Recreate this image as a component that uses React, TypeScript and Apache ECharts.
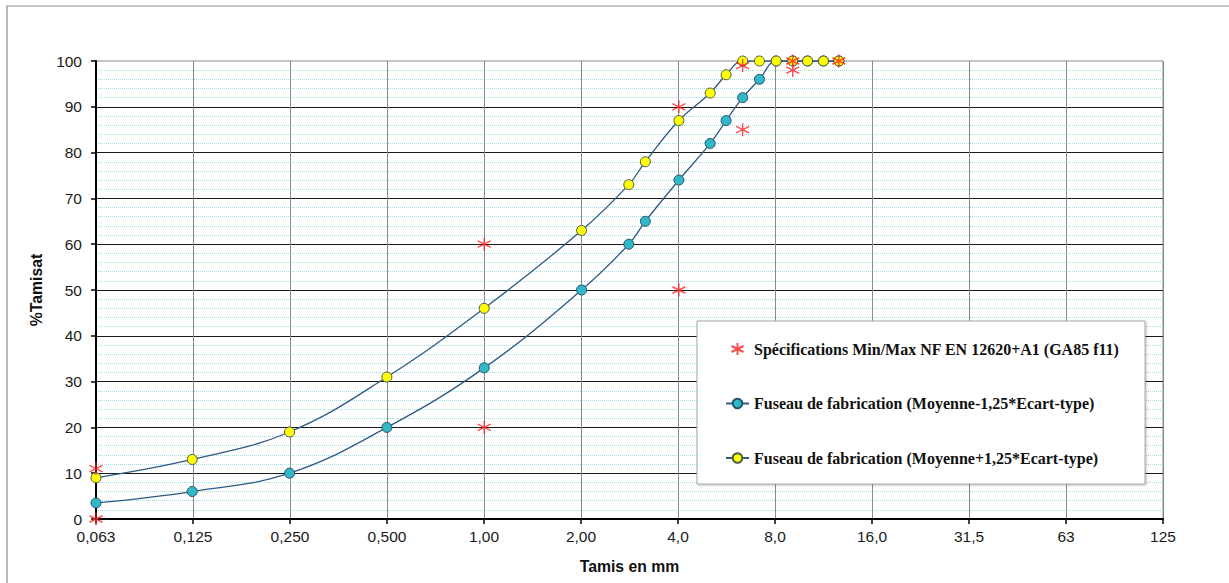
import React, { useEffect, useRef } from "react";
import * as echarts from "echarts";

// Sieve sizes (mm) and passing percentages
const sieves = [0.063, 0.125, 0.25, 0.5, 1, 2, 2.8, 3.15, 4, 5, 5.6, 6.3, 7.1, 8, 9, 10, 11.2, 12.5];
const lowerValues = [3.5, 6, 10, 20, 33, 50, 60, 65, 74, 82, 87, 92, 96, 100, 100, 100, 100, 100];
const upperValues = [9, 13, 19, 31, 46, 63, 73, 78, 87, 93, 97, 100, 100, 100, 100, 100, 100, 100];
const specSieves = [0.063, 0.063, 1, 1, 4, 4, 6.3, 6.3, 9, 9, 12.5];
const specValues = [0, 11, 20, 60, 50, 90, 85, 99, 98, 100, 100];
const xTickLabels = ["0,063", "0,125", "0,250", "0,500", "1,00", "2,00", "4,0", "8,0", "16,0", "31,5", "63", "125"];

const seriesNames = [
  "Spécifications Min/Max NF EN 12620+A1 (GA85 f11)",
  "Fuseau de fabrication (Moyenne-1,25*Ecart-type)",
  "Fuseau de fabrication (Moyenne+1,25*Ecart-type)",
];

// R-series axis: one labelled step = factor 10^0.3 starting at 0.063 mm
const toAxis = (s: number) => Math.log10(s / 0.063) / 0.3;

const STAR = "path://M5,0 L5,10 M0,2.5 L10,7.5 M0,7.5 L10,2.5";

export default function App() {
  const ref = useRef<HTMLDivElement>(null);
  useEffect(() => {
    if (!ref.current) return;
    const chart = echarts.init(ref.current, undefined, { renderer: "svg" });
    const lineColor = "#2e5a84";
    chart.setOption({
      animation: false,
      backgroundColor: "#ffffff",
      textStyle: { fontFamily: "Liberation Sans" },
      grid: {
        left: 96,
        right: 66,
        top: 61,
        bottom: 64,
        show: true,
        borderColor: "#8a8a8a",
        borderWidth: 1,
      },
      graphic: [
        {
          type: "rect",
          shape: { x: 7, y: 6, width: 1400, height: 800 },
          style: { fill: "none", stroke: "#8c8c8c", lineWidth: 1.2 },
          z: 0,
          silent: true,
        },
        {
          type: "rect",
          shape: { x: 697, y: 321, width: 448, height: 163 },
          style: {
            fill: "#ffffff",
            stroke: "#a6a6a6",
            lineWidth: 1,
            shadowBlur: 2,
            shadowOffsetX: 1,
            shadowOffsetY: 1,
            shadowColor: "rgba(0,0,0,0.25)",
          },
          z: 3,
          silent: true,
        },
      ],
      legend: {
        orient: "vertical",
        left: 725,
        top: 341,
        padding: 0,
        itemGap: 38.5,
        itemWidth: 23,
        itemHeight: 12,
        z: 6,
        textStyle: {
          fontFamily: "Liberation Serif",
          fontWeight: "bold",
          fontSize: 16,
          lineHeight: 16,
          color: "#111111",
        },
        data: seriesNames,
      },
      xAxis: {
        type: "value",
        min: 0,
        max: 11,
        interval: 1,
        name: "Tamis en mm",
        nameLocation: "middle",
        nameGap: 39,
        nameTextStyle: { fontFamily: "Liberation Sans", fontWeight: "bold", fontSize: 15.75, color: "#111111" },
        axisLine: { show: true, onZero: false, lineStyle: { color: "#000", width: 2 } },
        axisTick: { show: true, length: 5, lineStyle: { color: "#000", width: 1.5 } },
        axisLabel: {
          margin: 9,
          fontSize: 15.5,
          color: "#1a1a1a",
          fontFamily: "Liberation Sans",
          formatter: (v: number) => xTickLabels[Math.round(v)] ?? "",
        },
        splitLine: { show: true, lineStyle: { color: "#8a8a8a", width: 1 } },
      },
      yAxis: {
        type: "value",
        min: 0,
        max: 100,
        interval: 10,
        name: "%Tamisat",
        nameLocation: "middle",
        nameGap: 52,
        nameTextStyle: { fontFamily: "Liberation Sans", fontWeight: "bold", fontSize: 15.75, color: "#111111" },
        axisLine: { show: true, onZero: false, lineStyle: { color: "#000", width: 2 } },
        axisTick: { show: true, length: 5, lineStyle: { color: "#000", width: 1.5 } },
        axisLabel: { margin: 14, fontSize: 15.5, color: "#1a1a1a", fontFamily: "Liberation Sans" },
        splitLine: { show: true, showMaxLine: false, lineStyle: { color: "#1a1a1a", width: 1 } },
        minorTick: { show: false, splitNumber: 5 },
        minorSplitLine: { show: true, lineStyle: { color: "#9adfe3", width: 1, type: "dotted" } },
      },
      series: [
        {
          name: seriesNames[0],
          type: "scatter",
          symbol: STAR,
          symbolSize: 13,
          symbolKeepAspect: true,
          z: 5,
          itemStyle: { color: "#ff2020", borderColor: "#ff2020", borderWidth: 1.4 },
          data: specSieves.map((s, i) => [toAxis(s), specValues[i]]),
        },
        {
          name: seriesNames[1],
          type: "line",
          smooth: 0.4,
          symbol: "circle",
          symbolSize: 10,
          z: 3,
          lineStyle: { color: lineColor, width: 1.3 },
          itemStyle: { color: "#31b7c6", borderColor: "#24546f", borderWidth: 1 },
          data: sieves.map((s, i) => [toAxis(s), lowerValues[i]]),
        },
        {
          name: seriesNames[2],
          type: "line",
          smooth: 0.4,
          symbol: "circle",
          symbolSize: 10,
          z: 4,
          lineStyle: { color: lineColor, width: 1.3 },
          itemStyle: { color: "#ffff00", borderColor: "#4f5a4a", borderWidth: 1 },
          data: sieves.map((s, i) => [toAxis(s), upperValues[i]]),
        },
      ],
    });
    return () => chart.dispose();
  }, []);
  return (
    <div
      ref={ref}
      style={{ position: "absolute", left: 0, top: 0, width: 1229, height: 583 }}
    />
  );
}
